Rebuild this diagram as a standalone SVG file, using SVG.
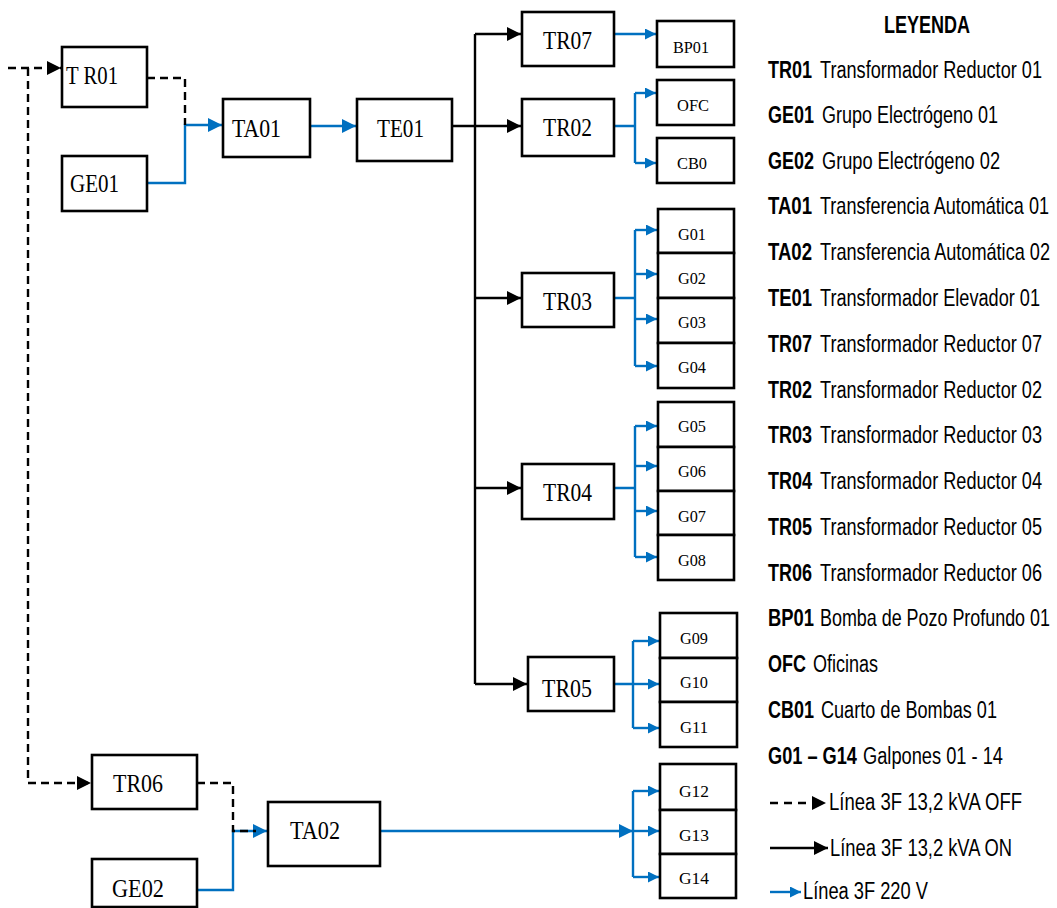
<svg xmlns="http://www.w3.org/2000/svg" width="1057" height="908" viewBox="0 0 1057 908">
<style>
.box{fill:#fff;stroke:#000;stroke-width:2.6}
.lb{font-family:"Liberation Serif","Times New Roman",serif;font-size:26px;fill:#000}
.ls{font-family:"Liberation Serif","Times New Roman",serif;font-size:16px;fill:#000}
.on{fill:none;stroke:#000;stroke-width:2.4}
.off{fill:none;stroke:#000;stroke-width:2.4;stroke-dasharray:8,5}
.bl{fill:none;stroke:#0070C0;stroke-width:2.4}
.lg{font-family:"Liberation Sans",Arial,sans-serif;font-size:23px;fill:#000}
.b{font-weight:bold}
</style>
<defs>
<marker id="ab" markerUnits="userSpaceOnUse" markerWidth="14" markerHeight="14" refX="14" refY="7" orient="auto"><path d="M0,0 L14,7 L0,14 z" fill="#000"/></marker>
<marker id="abl" markerUnits="userSpaceOnUse" markerWidth="14" markerHeight="14" refX="14" refY="7" orient="auto"><path d="M0,0 L14,7 L0,14 z" fill="#0070C0"/></marker>
<marker id="abs" markerUnits="userSpaceOnUse" markerWidth="11" markerHeight="11" refX="11" refY="5.5" orient="auto"><path d="M0,0 L11,5.5 L0,11 z" fill="#0070C0"/></marker>
</defs>

<g id="connectors">
<path class="off" d="M8,68 H61" marker-end="url(#ab)"/>
<path class="off" d="M28,68 V783 H91" marker-end="url(#ab)"/>
<path class="bl" d="M147,183 H185 V125 H222" marker-end="url(#abl)"/>
<path class="off" d="M147,78 H185 V125"/>
<path class="bl" d="M310,126 H356" marker-end="url(#abl)"/>
<path class="bl" d="M197,890 H233 V831 H267" marker-end="url(#abl)"/>
<path class="off" d="M197,783 H233 V831 H256"/>
<path class="on" d="M452,126 H521" marker-end="url(#ab)"/>
<path class="on" d="M475,34 V684"/>
<path class="on" d="M475,34 H521" marker-end="url(#ab)"/>
<path class="on" d="M475,298 H521" marker-end="url(#ab)"/>
<path class="on" d="M475,488 H521" marker-end="url(#ab)"/>
<path class="on" d="M475,684 H527" marker-end="url(#ab)"/>
<path class="bl" d="M614,34 H656" marker-end="url(#abs)"/>
<path class="bl" d="M614,126 H635 M635,93 V163"/>
<path class="bl" d="M635,93 H656" marker-end="url(#abs)"/>
<path class="bl" d="M635,163 H656" marker-end="url(#abs)"/>
<path class="bl" d="M614,298 H635 M635,230 V366"/>
<path class="bl" d="M635,230 H657" marker-end="url(#abs)"/>
<path class="bl" d="M635,274 H657" marker-end="url(#abs)"/>
<path class="bl" d="M635,319 H657" marker-end="url(#abs)"/>
<path class="bl" d="M635,366 H657" marker-end="url(#abs)"/>
<path class="bl" d="M614,488 H635 M635,426 V557"/>
<path class="bl" d="M635,426 H657" marker-end="url(#abs)"/>
<path class="bl" d="M635,466 H657" marker-end="url(#abs)"/>
<path class="bl" d="M635,511 H657" marker-end="url(#abs)"/>
<path class="bl" d="M635,557 H657" marker-end="url(#abs)"/>
<path class="bl" d="M614,684 H633 M633,641 V728"/>
<path class="bl" d="M633,641 H659" marker-end="url(#abs)"/>
<path class="bl" d="M633,684 H659" marker-end="url(#abs)"/>
<path class="bl" d="M633,728 H659" marker-end="url(#abs)"/>
<path class="bl" d="M380,831 H633" marker-end="url(#abl)"/>
<path class="bl" d="M633,791 V877"/>
<path class="bl" d="M633,791 H659" marker-end="url(#abs)"/>
<path class="bl" d="M633,831 H659" marker-end="url(#abs)"/>
<path class="bl" d="M633,877 H659" marker-end="url(#abs)"/>
</g>

<g id="TR01"><rect class="box" x="62" y="47" width="85" height="60"/><text class="lb" x="66" y="84" textLength="52" lengthAdjust="spacingAndGlyphs">T R01</text></g>
<g id="GE01"><rect class="box" x="62" y="156" width="85" height="55"/><text class="lb" x="70" y="192" textLength="49" lengthAdjust="spacingAndGlyphs">GE01</text></g>
<g id="TA01"><rect class="box" x="223" y="99" width="87" height="58"/><text class="lb" x="232" y="137" textLength="49" lengthAdjust="spacingAndGlyphs">TA01</text></g>
<g id="TE01"><rect class="box" x="357" y="99" width="95" height="62"/><text class="lb" x="377" y="137" textLength="47" lengthAdjust="spacingAndGlyphs">TE01</text></g>
<g id="TR07"><rect class="box" x="522" y="12" width="92" height="54"/><text class="lb" x="543" y="49" textLength="49" lengthAdjust="spacingAndGlyphs">TR07</text></g>
<g id="BP01"><rect class="box" x="657" y="21" width="77" height="46"/><text class="ls" x="673" y="53" textLength="36" lengthAdjust="spacingAndGlyphs">BP01</text></g>
<g id="TR02"><rect class="box" x="522" y="99" width="92" height="57"/><text class="lb" x="543" y="136" textLength="49" lengthAdjust="spacingAndGlyphs">TR02</text></g>
<g id="OFC"><rect class="box" x="657" y="80" width="77" height="45"/><text class="ls" x="677" y="111" textLength="32" lengthAdjust="spacingAndGlyphs">OFC</text></g>
<g id="CB0"><rect class="box" x="657" y="138" width="77" height="45"/><text class="ls" x="677" y="169" textLength="30" lengthAdjust="spacingAndGlyphs">CB0</text></g>
<g id="TR03"><rect class="box" x="522" y="273" width="92" height="54"/><text class="lb" x="543" y="310" textLength="49" lengthAdjust="spacingAndGlyphs">TR03</text></g>
<g id="G01"><rect class="box" x="658" y="209" width="76" height="44"/><text class="ls" x="678" y="240" textLength="28" lengthAdjust="spacingAndGlyphs">G01</text></g>
<g id="G02"><rect class="box" x="658" y="253" width="76" height="45"/><text class="ls" x="678" y="284" textLength="28" lengthAdjust="spacingAndGlyphs">G02</text></g>
<g id="G03"><rect class="box" x="658" y="298" width="76" height="45"/><text class="ls" x="678" y="328" textLength="28" lengthAdjust="spacingAndGlyphs">G03</text></g>
<g id="G04"><rect class="box" x="658" y="343" width="76" height="45"/><text class="ls" x="678" y="373" textLength="28" lengthAdjust="spacingAndGlyphs">G04</text></g>
<g id="TR04"><rect class="box" x="522" y="464" width="92" height="55"/><text class="lb" x="543" y="501" textLength="49" lengthAdjust="spacingAndGlyphs">TR04</text></g>
<g id="G05"><rect class="box" x="658" y="402" width="76" height="45"/><text class="ls" x="678" y="432" textLength="28" lengthAdjust="spacingAndGlyphs">G05</text></g>
<g id="G06"><rect class="box" x="658" y="447" width="76" height="44"/><text class="ls" x="678" y="477" textLength="28" lengthAdjust="spacingAndGlyphs">G06</text></g>
<g id="G07"><rect class="box" x="658" y="491" width="76" height="44"/><text class="ls" x="678" y="522" textLength="28" lengthAdjust="spacingAndGlyphs">G07</text></g>
<g id="G08"><rect class="box" x="658" y="535" width="76" height="45"/><text class="ls" x="678" y="566" textLength="28" lengthAdjust="spacingAndGlyphs">G08</text></g>
<g id="TR05"><rect class="box" x="528" y="657" width="86" height="54"/><text class="lb" x="542" y="697" textLength="50" lengthAdjust="spacingAndGlyphs">TR05</text></g>
<g id="G09"><rect class="box" x="660" y="613" width="77" height="45"/><text class="ls" x="680" y="644" textLength="28" lengthAdjust="spacingAndGlyphs">G09</text></g>
<g id="G10"><rect class="box" x="660" y="658" width="77" height="44"/><text class="ls" x="680" y="688" textLength="28" lengthAdjust="spacingAndGlyphs">G10</text></g>
<g id="G11"><rect class="box" x="660" y="702" width="77" height="45"/><text class="ls" x="680" y="733" textLength="28" lengthAdjust="spacingAndGlyphs">G11</text></g>
<g id="TR06"><rect class="box" x="92" y="755" width="105" height="54"/><text class="lb" x="113" y="792" textLength="50" lengthAdjust="spacingAndGlyphs">TR06</text></g>
<g id="TA02"><rect class="box" x="268" y="802" width="112" height="64"/><text class="lb" x="290" y="839" textLength="50" lengthAdjust="spacingAndGlyphs">TA02</text></g>
<g id="GE02"><rect class="box" x="92" y="859" width="105" height="48"/><text class="lb" x="112" y="897" textLength="52" lengthAdjust="spacingAndGlyphs">GE02</text></g>
<g id="G12"><rect class="box" x="660" y="764" width="76" height="46"/><text class="ls" x="679" y="797" textLength="30" lengthAdjust="spacingAndGlyphs">G12</text></g>
<g id="G13"><rect class="box" x="660" y="810" width="76" height="44"/><text class="ls" x="679" y="841" textLength="30" lengthAdjust="spacingAndGlyphs">G13</text></g>
<g id="G14"><rect class="box" x="660" y="854" width="76" height="44"/><text class="ls" x="679" y="884" textLength="30" lengthAdjust="spacingAndGlyphs">G14</text></g>

<g id="legend">
<text class="lg b" transform="translate(884,33) scale(0.82,1)" font-size="21" textLength="104.9" lengthAdjust="spacingAndGlyphs">LEYENDA</text>
<text class="lg b" transform="translate(768,78) scale(0.82,1)" textLength="53.7" lengthAdjust="spacingAndGlyphs">TR01</text>
<text class="lg" transform="translate(820,78) scale(0.82,1)" textLength="270.7" lengthAdjust="spacingAndGlyphs">Transformador Reductor 01</text>
<text class="lg b" transform="translate(768,123) scale(0.82,1)" textLength="56.1" lengthAdjust="spacingAndGlyphs">GE01</text>
<text class="lg" transform="translate(822,123) scale(0.82,1)" textLength="214.6" lengthAdjust="spacingAndGlyphs">Grupo Electrógeno 01</text>
<text class="lg b" transform="translate(768,169) scale(0.82,1)" textLength="56.1" lengthAdjust="spacingAndGlyphs">GE02</text>
<text class="lg" transform="translate(822,169) scale(0.82,1)" textLength="217.1" lengthAdjust="spacingAndGlyphs">Grupo Electrógeno 02</text>
<text class="lg b" transform="translate(768,214) scale(0.82,1)" textLength="53.7" lengthAdjust="spacingAndGlyphs">TA01</text>
<text class="lg" transform="translate(820,214) scale(0.76,1)" textLength="301.3" lengthAdjust="spacingAndGlyphs">Transferencia Automática 01</text>
<text class="lg b" transform="translate(768,260) scale(0.82,1)" textLength="53.7" lengthAdjust="spacingAndGlyphs">TA02</text>
<text class="lg" transform="translate(820,260) scale(0.76,1)" textLength="302.6" lengthAdjust="spacingAndGlyphs">Transferencia Automática 02</text>
<text class="lg b" transform="translate(768,306) scale(0.82,1)" textLength="53.7" lengthAdjust="spacingAndGlyphs">TE01</text>
<text class="lg" transform="translate(820,306) scale(0.82,1)" textLength="268.3" lengthAdjust="spacingAndGlyphs">Transformador Elevador 01</text>
<text class="lg b" transform="translate(768,352) scale(0.82,1)" textLength="53.7" lengthAdjust="spacingAndGlyphs">TR07</text>
<text class="lg" transform="translate(820,352) scale(0.82,1)" textLength="270.7" lengthAdjust="spacingAndGlyphs">Transformador Reductor 07</text>
<text class="lg b" transform="translate(768,398) scale(0.82,1)" textLength="53.7" lengthAdjust="spacingAndGlyphs">TR02</text>
<text class="lg" transform="translate(820,398) scale(0.82,1)" textLength="270.7" lengthAdjust="spacingAndGlyphs">Transformador Reductor 02</text>
<text class="lg b" transform="translate(768,443) scale(0.82,1)" textLength="53.7" lengthAdjust="spacingAndGlyphs">TR03</text>
<text class="lg" transform="translate(820,443) scale(0.82,1)" textLength="270.7" lengthAdjust="spacingAndGlyphs">Transformador Reductor 03</text>
<text class="lg b" transform="translate(768,489) scale(0.82,1)" textLength="53.7" lengthAdjust="spacingAndGlyphs">TR04</text>
<text class="lg" transform="translate(820,489) scale(0.82,1)" textLength="270.7" lengthAdjust="spacingAndGlyphs">Transformador Reductor 04</text>
<text class="lg b" transform="translate(768,535) scale(0.82,1)" textLength="53.7" lengthAdjust="spacingAndGlyphs">TR05</text>
<text class="lg" transform="translate(820,535) scale(0.82,1)" textLength="270.7" lengthAdjust="spacingAndGlyphs">Transformador Reductor 05</text>
<text class="lg b" transform="translate(768,581) scale(0.82,1)" textLength="53.7" lengthAdjust="spacingAndGlyphs">TR06</text>
<text class="lg" transform="translate(820,581) scale(0.82,1)" textLength="270.7" lengthAdjust="spacingAndGlyphs">Transformador Reductor 06</text>
<text class="lg b" transform="translate(768,626) scale(0.82,1)" textLength="56.1" lengthAdjust="spacingAndGlyphs">BP01</text>
<text class="lg" transform="translate(820,626) scale(0.76,1)" textLength="302.6" lengthAdjust="spacingAndGlyphs">Bomba de Pozo Profundo 01</text>
<text class="lg b" transform="translate(768,672) scale(0.82,1)" textLength="46.3" lengthAdjust="spacingAndGlyphs">OFC</text>
<text class="lg" transform="translate(813,672) scale(0.82,1)" textLength="79.3" lengthAdjust="spacingAndGlyphs">Oficinas</text>
<text class="lg b" transform="translate(768,718) scale(0.82,1)" textLength="56.1" lengthAdjust="spacingAndGlyphs">CB01</text>
<text class="lg" transform="translate(821,718) scale(0.82,1)" textLength="214.6" lengthAdjust="spacingAndGlyphs">Cuarto de Bombas 01</text>
<text class="lg b" transform="translate(768,764) scale(0.82,1)" textLength="108.5" lengthAdjust="spacingAndGlyphs">G01 – G14</text>
<text class="lg" transform="translate(863,764) scale(0.82,1)" textLength="170.7" lengthAdjust="spacingAndGlyphs">Galpones 01 - 14</text>
<path class="off" d="M770,803 H826" marker-end="url(#ab)" style="stroke-dasharray:8,6"/>
<text class="lg" transform="translate(829,810) scale(0.82,1)" textLength="235.4" lengthAdjust="spacingAndGlyphs">Línea 3F 13,2 kVA OFF</text>
<path class="on" d="M770,848 H828" marker-end="url(#ab)"/>
<text class="lg" transform="translate(830,856) scale(0.82,1)" textLength="222" lengthAdjust="spacingAndGlyphs">Línea 3F 13,2 kVA ON</text>
<path class="bl" d="M770,892 H801" marker-end="url(#abs)"/>
<text class="lg" transform="translate(803,899) scale(0.82,1)" textLength="152.4" lengthAdjust="spacingAndGlyphs">Línea 3F 220 V</text>
</g>
</svg>
